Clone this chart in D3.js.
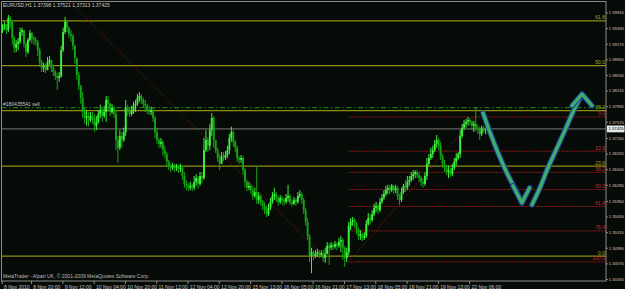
<!DOCTYPE html>
<html>
<head>
<meta charset="utf-8">
<script src="https://cdn.jsdelivr.net/npm/d3@7"></script>
<style>
  html, body { margin: 0; padding: 0; background: #070b07; }
  svg { display: block; }
  text { font-family: "Liberation Sans", Arial, sans-serif; }
</style>
</head>
<body>
<div id="chart"></div>
<script>
const WIDTH = 625;
const HEIGHT = 289;
const plot = { left: 1.5, right: 606, top: 1.5, bottom: 281 };

// EURUSD H1 bars, prices in pips (price x 10000); open of a bar = close of the previous one
const symbol = 'EURUSD,H1';
const firstOpenPips = 13945;
const closePips = [
  13952, 13956, 13945, 13970, 13962, 13929, 13909, 13917, 13921, 13941,
  13945, 13917, 13900, 13925, 13939, 13929, 13925, 13921, 13904, 13880,
  13868, 13872, 13863, 13880, 13884, 13868, 13859, 13851, 13847, 13851,
  13904, 13941, 13962, 13950, 13937, 13933, 13913, 13888, 13853, 13831,
  13806, 13777, 13765, 13769, 13761, 13769, 13765, 13749, 13757, 13773,
  13781, 13769, 13777, 13802, 13794, 13777, 13786, 13773, 13720, 13704,
  13728, 13720, 13736, 13786, 13777, 13773, 13781, 13790, 13794, 13806,
  13810, 13802, 13794, 13790, 13781, 13777, 13781, 13765, 13736, 13720,
  13712, 13716, 13699, 13691, 13675, 13667, 13663, 13667, 13663, 13665,
  13661, 13663, 13646, 13630, 13626, 13622, 13626, 13622, 13634, 13642,
  13630, 13646, 13642, 13699, 13720, 13708, 13740, 13765, 13720, 13699,
  13683, 13671, 13687, 13683, 13689, 13699, 13724, 13736, 13716, 13704,
  13683, 13679, 13683, 13658, 13634, 13622, 13626, 13617, 13605, 13613,
  13597, 13605, 13593, 13585, 13576, 13568, 13581, 13593, 13605, 13609,
  13601, 13593, 13601, 13597, 13593, 13601, 13605, 13593, 13589, 13597,
  13593, 13605, 13609, 13597, 13576, 13552, 13523, 13482, 13490, 13482,
  13486, 13490, 13484, 13488, 13478, 13486, 13503, 13499, 13505, 13501,
  13507, 13503, 13511, 13515, 13499, 13478, 13490, 13544, 13552, 13556,
  13548, 13535, 13523, 13527, 13519, 13523, 13548, 13560, 13556, 13568,
  13581, 13585, 13576, 13593, 13601, 13609, 13617, 13622, 13617, 13626,
  13617, 13622, 13605, 13597, 13613, 13626, 13622, 13634, 13638, 13646,
  13650, 13654, 13648, 13642, 13634, 13630, 13646, 13671, 13683, 13691,
  13699, 13712, 13720, 13708, 13687, 13671, 13663, 13654, 13658, 13650,
  13663, 13675, 13683, 13691, 13728, 13745, 13753, 13757, 13761, 13757,
  13749, 13753, 13745, 13740, 13732, 13745, 13739.8, 13742.5
];
const highPips = [
  13958, 13962, 13958, 13976, 13974, 13966, 13933, 13925, 13929, 13950,
  13950, 13945, 13921, 13929, 13945, 13941, 13933, 13931, 13925, 13909,
  13884, 13878, 13876, 13890, 13892, 13884, 13874, 13863, 13857, 13859,
  13913, 13950, 13972, 13966, 13952, 13945, 13937, 13915, 13888, 13859,
  13833, 13818, 13786, 13781, 13777, 13777, 13777, 13773, 13769, 13781,
  13792, 13786, 13790, 13810, 13810, 13796, 13794, 13790, 13781, 13728,
  13740, 13736, 13745, 13802, 13792, 13786, 13790, 13798, 13802, 13814,
  13818, 13814, 13806, 13802, 13794, 13790, 13788, 13786, 13769, 13745,
  13724, 13724, 13720, 13708, 13695, 13679, 13671, 13673, 13671, 13671,
  13669, 13671, 13667, 13654, 13638, 13632, 13634, 13630, 13646, 13650,
  13646, 13654, 13654, 13724, 13740, 13726, 13753, 13775, 13769, 13712,
  13704, 13691, 13695, 13695, 13697, 13708, 13732, 13747, 13740, 13720,
  13708, 13687, 13689, 13687, 13663, 13638, 13634, 13630, 13626, 13622,
  13665, 13613, 13609, 13597, 13593, 13585, 13589, 13601, 13613, 13622,
  13613, 13605, 13607, 13605, 13601, 13609, 13628, 13609, 13599, 13603,
  13601, 13613, 13617, 13613, 13601, 13581, 13560, 13527, 13499, 13494,
  13494, 13497, 13494, 13494, 13494, 13499, 13511, 13509, 13511, 13509,
  13513, 13511, 13519, 13523, 13519, 13503, 13499, 13552, 13560, 13562,
  13560, 13552, 13540, 13535, 13529, 13531, 13556, 13570, 13568, 13576,
  13589, 13593, 13589, 13601, 13609, 13617, 13626, 13628, 13628, 13630,
  13628, 13628, 13626, 13609, 13622, 13630, 13638, 13646, 13646, 13654,
  13658, 13658, 13658, 13654, 13646, 13642, 13654, 13683, 13691, 13704,
  13708, 13720, 13730, 13724, 13716, 13691, 13679, 13667, 13667, 13663,
  13671, 13683, 13693, 13695, 13740, 13753, 13761, 13763, 13767, 13765,
  13759, 13759, 13786, 13751, 13747, 13749, 13748, 13752.1
];
const lowPips = [
  13939, 13945, 13937, 13941, 13950, 13915, 13898, 13900, 13904, 13917,
  13933, 13909, 13890, 13896, 13921, 13917, 13915, 13913, 13892, 13870,
  13859, 13859, 13857, 13863, 13874, 13859, 13851, 13843, 13822, 13839,
  13847, 13900, 13937, 13941, 13929, 13921, 13904, 13876, 13843, 13822,
  13794, 13765, 13753, 13749, 13747, 13757, 13753, 13736, 13740, 13753,
  13765, 13757, 13765, 13757, 13781, 13769, 13773, 13765, 13699, 13673,
  13699, 13704, 13716, 13728, 13769, 13767, 13769, 13773, 13777, 13790,
  13798, 13794, 13786, 13777, 13773, 13771, 13771, 13757, 13724, 13712,
  13704, 13704, 13687, 13683, 13665, 13658, 13654, 13658, 13654, 13656,
  13652, 13654, 13638, 13622, 13617, 13615, 13617, 13615, 13617, 13626,
  13620, 13626, 13632, 13638, 13695, 13695, 13699, 13728, 13704, 13693,
  13675, 13658, 13675, 13677, 13679, 13683, 13691, 13716, 13706, 13695,
  13675, 13671, 13673, 13648, 13622, 13615, 13617, 13609, 13597, 13601,
  13589, 13589, 13585, 13576, 13568, 13562, 13564, 13576, 13589, 13597,
  13593, 13585, 13589, 13587, 13585, 13589, 13593, 13587, 13583, 13587,
  13585, 13589, 13601, 13589, 13568, 13544, 13515, 13470, 13447, 13474,
  13478, 13480, 13478, 13480, 13470, 13468, 13490, 13464, 13494, 13494,
  13497, 13494, 13499, 13490, 13474, 13460, 13470, 13484, 13535, 13544,
  13540, 13527, 13515, 13515, 13513, 13515, 13519, 13544, 13546, 13552,
  13564, 13572, 13568, 13572, 13589, 13597, 13605, 13609, 13609, 13613,
  13609, 13611, 13597, 13587, 13593, 13609, 13613, 13617, 13626, 13634,
  13638, 13642, 13642, 13634, 13626, 13622, 13626, 13638, 13667, 13679,
  13683, 13695, 13704, 13699, 13679, 13663, 13654, 13648, 13642, 13644,
  13646, 13658, 13667, 13679, 13683, 13724, 13740, 13745, 13749, 13749,
  13740, 13736, 13738, 13732, 13720, 13728, 13735, 13731.3
];

// axis labels
const yTicks = [1.39810, 1.39490, 1.39170, 1.38850, 1.38530, 1.38210, 1.37890, 1.37570, 1.37240,
  1.36920, 1.36600, 1.36280, 1.35950, 1.35630, 1.35310, 1.34990, 1.34670, 1.34350];
const xTickBars = [0, 15, 31, 47, 63, 79, 95, 111, 127, 143, 159, 175, 191, 207, 223, 239];
const xTickLabels = ['8 Nov 2010', '8 Nov 20:00', '9 Nov 12:00', '10 Nov 04:00', '10 Nov 20:00',
  '11 Nov 12:00', '12 Nov 04:00', '12 Nov 20:00', '15 Nov 13:00', '16 Nov 05:00', '16 Nov 21:00',
  '17 Nov 13:00', '18 Nov 05:00', '18 Nov 21:00', '19 Nov 13:00', '22 Nov 06:00'];

// fibonacci objects: anchors [bar, pips] ; level 0 at second anchor
const fiboLevels1 = [0, 23.6, 38.2, 50.0, 61.8];
const fiboAnchors1 = [[-30, 14262], [164, 13482]];
const fiboLevels2 = [0, 23.6, 38.2, 50.0, 61.8, 78.6, 100];
const fiboLabels2 = ['0.0', '23.6', '38.2', '50.0', '61.8', '76.4', '100.0'];
const fiboAnchors2 = [[177, 13470], [241.5, 13767]];

// order line and hand drawn arrows [bar, pips]
const sellOrderPips = 13786;
const sellOrderLabel = '#180435541 sell';
const arrowDown = [[245.7, 13775], [249.2, 13736], [252.8, 13699], [257.9, 13652], [262.5, 13617], [265.6, 13591]];
const arrowDownHead = [[261.0, 13626], [265.6, 13591], [269.5, 13622]];
const arrowUp = [[270.7, 13587], [274.8, 13622], [278.9, 13663], [283.0, 13699], [287.6, 13740], [291.7, 13777], [295.6, 13808]];
const arrowUpHead = [[291.2, 13790], [296.3, 13814], [301.4, 13790]];

const footer = 'MetaTrader - Alpari UK, \u00a9 2001-2009 MetaQuotes Software Corp.';

if (highPips.length !== closePips.length || lowPips.length !== closePips.length) {
  throw new Error('bar arrays differ: ' + closePips.length + ' ' + highPips.length + ' ' + lowPips.length);
}

const bars = closePips.map((c, i) => {
  const o = i === 0 ? firstOpenPips : closePips[i - 1];
  return {
    i,
    open: o / 1e4,
    close: c / 1e4,
    high: Math.max(highPips[i], o, c) / 1e4,
    low: Math.min(lowPips[i], o, c) / 1e4,
  };
});
const last = bars[bars.length - 1];

const svg = d3.select('#chart').append('svg')
  .attr('width', WIDTH)
  .attr('height', HEIGHT);

svg.append('rect').attr('width', WIDTH).attr('height', HEIGHT).attr('fill', '#070b07');

const x = d3.scaleLinear().domain([0, 247]).range([2.5, 485.6]);
const y = d3.scaleLinear().domain([1.3435, 1.3981]).range([279, 12.5]);

svg.append('defs').append('clipPath').attr('id', 'clip')
  .append('rect')
  .attr('x', plot.left).attr('y', plot.top)
  .attr('width', plot.right - plot.left).attr('height', plot.bottom - plot.top);

const g = svg.append('g').attr('clip-path', 'url(#clip)');

function fiboPrice(anchors, lvl) {
  const p100 = anchors[0][1] / 1e4;
  const p0 = anchors[1][1] / 1e4;
  return p0 + (p100 - p0) * lvl / 100;
}

// fibo 1 (yellow)
g.selectAll('.fibo1')
  .data(fiboLevels1)
  .join('line')
  .attr('class', 'fibo1')
  .attr('x1', plot.left).attr('x2', plot.right)
  .attr('y1', (d) => y(fiboPrice(fiboAnchors1, d)))
  .attr('y2', (d) => y(fiboPrice(fiboAnchors1, d)))
  .attr('stroke', '#8e8e12')
  .attr('stroke-width', 1.2);

g.append('line')
  .attr('x1', x(fiboAnchors1[0][0])).attr('y1', y(fiboAnchors1[0][1] / 1e4))
  .attr('x2', x(fiboAnchors1[1][0])).attr('y2', y(fiboAnchors1[1][1] / 1e4))
  .attr('stroke', '#8a1a1a')
  .attr('stroke-width', 1)
  .attr('stroke-dasharray', '1.2,2');

// fibo 2 (red)
g.selectAll('.fibo2')
  .data(fiboLevels2)
  .join('line')
  .attr('class', 'fibo2')
  .attr('x1', x(fiboAnchors2[0][0])).attr('x2', plot.right)
  .attr('y1', (d) => y(fiboPrice(fiboAnchors2, d)))
  .attr('y2', (d) => y(fiboPrice(fiboAnchors2, d)))
  .attr('stroke', '#a01c1c')
  .attr('stroke-width', 1)
  .attr('stroke-dasharray', '1.5,1');

g.append('line')
  .attr('x1', x(fiboAnchors2[0][0])).attr('y1', y(fiboAnchors2[0][1] / 1e4))
  .attr('x2', x(fiboAnchors2[1][0])).attr('y2', y(fiboAnchors2[1][1] / 1e4))
  .attr('stroke', '#8a1a1a')
  .attr('stroke-width', 1)
  .attr('stroke-dasharray', '1.2,2');

// bid line
g.append('line')
  .attr('x1', plot.left).attr('x2', plot.right)
  .attr('y1', y(last.close)).attr('y2', y(last.close))
  .attr('stroke', '#7c7c7c')
  .attr('stroke-width', 1);

// sell order line
g.append('line')
  .attr('x1', plot.left).attr('x2', plot.right)
  .attr('y1', y(sellOrderPips / 1e4)).attr('y2', y(sellOrderPips / 1e4))
  .attr('stroke', '#139a13')
  .attr('stroke-width', 1)
  .attr('stroke-dasharray', '5,2.5,1.5,2.5');

// candles
const upColor = '#3ef03e';
const downColor = '#12a612';
const candle = g.append('g').selectAll('g')
  .data(bars)
  .join('g');
candle.append('line')
  .attr('x1', (d) => x(d.i)).attr('x2', (d) => x(d.i))
  .attr('y1', (d) => y(d.high)).attr('y2', (d) => y(d.low))
  .attr('stroke', (d) => (d.close >= d.open ? upColor : downColor))
  .attr('stroke-width', 1);
candle.append('rect')
  .attr('x', (d) => x(d.i) - 0.95)
  .attr('width', 1.9)
  .attr('y', (d) => y(Math.max(d.open, d.close)))
  .attr('height', (d) => Math.max(1, Math.abs(y(d.open) - y(d.close))))
  .attr('fill', (d) => (d.close >= d.open ? upColor : downColor));

// hand drawn arrows
const arrowLine = d3.line()
  .x((d) => x(d[0]))
  .y((d) => y(d[1] / 1e4))
  .curve(d3.curveCatmullRom);
const headLine = d3.line()
  .x((d) => x(d[0]))
  .y((d) => y(d[1] / 1e4));
[
  [arrowDown, arrowLine], [arrowDownHead, headLine],
  [arrowUp, arrowLine], [arrowUpHead, headLine],
].forEach(([pts, gen]) => {
  g.append('path').attr('d', gen(pts))
    .attr('fill', 'none').attr('stroke', '#1e3c96').attr('stroke-width', 5.6)
    .attr('stroke-linecap', 'round').attr('stroke-linejoin', 'round');
  g.append('path').attr('d', gen(pts))
    .attr('fill', 'none').attr('stroke', '#3cae6a').attr('stroke-width', 3.4)
    .attr('stroke-linecap', 'round').attr('stroke-linejoin', 'round');
});

// level labels
const labelFont = 5;
svg.selectAll('.fibo1-label')
  .data(fiboLevels1)
  .join('text')
  .attr('class', 'fibo1-label')
  .attr('x', plot.right - 1)
  .attr('y', (d) => y(fiboPrice(fiboAnchors1, d)) - 1.5)
  .attr('text-anchor', 'end')
  .attr('font-size', labelFont)
  .attr('fill', '#a8a826')
  .text((d) => d.toFixed(1));

svg.selectAll('.fibo2-label')
  .data(fiboLevels2)
  .join('text')
  .attr('class', 'fibo2-label')
  .attr('x', plot.right - 1)
  .attr('y', (d) => y(fiboPrice(fiboAnchors2, d)) - 1.5)
  .attr('text-anchor', 'end')
  .attr('font-size', labelFont)
  .attr('fill', '#c03030')
  .text((d, i) => fiboLabels2[i]);

svg.append('text')
  .attr('x', 3).attr('y', y(sellOrderPips / 1e4) - 1.8)
  .attr('font-size', labelFont)
  .attr('fill', '#c8c8c8')
  .text(sellOrderLabel);

// frame
svg.append('rect')
  .attr('x', plot.left).attr('y', plot.top)
  .attr('width', plot.right - plot.left).attr('height', plot.bottom - plot.top)
  .attr('fill', 'none')
  .attr('stroke', '#8c8c8c')
  .attr('stroke-width', 1);

// price axis
const priceFont = 4.2;
const yAxis = svg.append('g')
  .attr('transform', `translate(${plot.right}, 0)`)
  .call(d3.axisRight(y).tickValues(yTicks).tickFormat(d3.format('.5f')).tickSize(2).tickPadding(0.8));
yAxis.select('.domain').remove();
yAxis.selectAll('line').attr('stroke', '#8c8c8c');
yAxis.selectAll('text')
  .attr('font-size', priceFont)
  .attr('fill', '#c8c8c8')
  .attr('font-family', '"Liberation Sans", Arial, sans-serif');

// current price tag
const tag = svg.append('g').attr('transform', `translate(${plot.right + 1}, ${y(last.close)})`);
tag.append('rect').attr('x', 0).attr('y', -3.4).attr('width', 17.5).attr('height', 6.8).attr('fill', '#e6e6e6');
tag.append('text').attr('x', 1.5).attr('y', 1.5).attr('font-size', priceFont).attr('fill', '#000')
  .text(last.close.toFixed(5));

// time axis
const xAxis = svg.append('g')
  .attr('transform', `translate(0, ${plot.bottom})`)
  .call(d3.axisBottom(x).tickValues(xTickBars).tickFormat((d, i) => xTickLabels[i]).tickSize(3).tickPadding(1));
xAxis.select('.domain').remove();
xAxis.selectAll('line').attr('stroke', '#8c8c8c').attr('transform', 'translate(-0.8,0)');
xAxis.selectAll('text')
  .attr('text-anchor', 'start')
  .attr('x', 1)
  .attr('font-size', labelFont)
  .attr('fill', '#c8c8c8')
  .attr('font-family', '"Liberation Sans", Arial, sans-serif');

// header and footer
svg.append('text')
  .attr('x', 3).attr('y', 7)
  .attr('font-size', labelFont)
  .attr('fill', '#c8c8c8')
  .text(`${symbol}  ${last.open.toFixed(5)} ${last.high.toFixed(5)} ${last.low.toFixed(5)} ${last.close.toFixed(5)}`);

svg.append('text')
  .attr('x', 3).attr('y', 277.5)
  .attr('font-size', labelFont)
  .attr('fill', '#bdbdbd')
  .text(footer);
</script>
</body>
</html>
